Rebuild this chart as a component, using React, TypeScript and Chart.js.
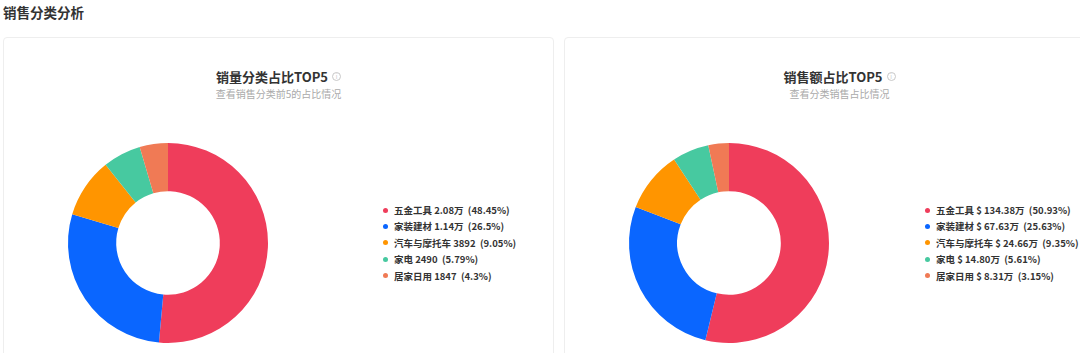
import React, { useEffect, useRef } from 'react';
import { Chart, registerables } from 'chart.js';

Chart.register(...registerables);

const categories = ['五金工具', '家装建材', '汽车与摩托车', '家电', '居家日用'];
const sliceColors = ['#EF3D5B', '#0A66FF', '#FF9500', '#47C9A0', '#F07A55'];

const qtyValues = [20800, 11400, 3892, 2490, 1847];
const qtyLabels = ['2.08万', '1.14万', '3892', '2490', '1847'];
const qtyPercents = ['48.45%', '26.5%', '9.05%', '5.79%', '4.3%'];

const amtValues = [134.38, 67.63, 24.66, 14.8, 8.31];
const amtLabels = ['$ 134.38万', '$ 67.63万', '$ 24.66万', '$ 14.80万', '$ 8.31万'];
const amtPercents = ['50.93%', '25.63%', '9.35%', '5.61%', '3.15%'];

const FONT = '"Noto Sans CJK SC", "Noto Sans", sans-serif';

function Donut({ values }: { values: number[] }) {
  const ref = useRef<HTMLCanvasElement | null>(null);
  useEffect(() => {
    if (!ref.current) return;
    const chart = new Chart(ref.current, {
      type: 'doughnut',
      data: {
        labels: categories,
        datasets: [
          {
            data: values,
            backgroundColor: sliceColors,
            borderWidth: 0,
            hoverOffset: 0,
          },
        ],
      },
      options: {
        responsive: false,
        maintainAspectRatio: false,
        animation: false,
        events: [],
        radius: 100,
        cutout: 57,
        layout: { padding: 0 },
        plugins: {
          legend: { display: false },
          tooltip: { enabled: false },
        },
      } as any,
    });
    return () => chart.destroy();
  }, [values]);
  return (
    <div style={{ position: 'absolute', left: 54, top: 95, width: 220, height: 220 }}>
      <canvas ref={ref} width={220} height={220} />
    </div>
  );
}

function Legend({ labels, percents, left }: { labels: string[]; percents: string[]; left: number }) {
  return (
    <div style={{ position: 'absolute', left, top: 164 }}>
      {categories.map((c, i) => (
        <div
          key={c}
          style={{
            display: 'flex',
            alignItems: 'center',
            height: 16.4,
            lineHeight: '16.4px',
            fontSize: 9.5,
            fontWeight: 700,
            color: '#333',
            whiteSpace: 'pre',
            fontFamily: FONT,
          }}
        >
          <span
            style={{
              display: 'inline-block',
              width: 5,
              height: 5,
              borderRadius: '50%',
              background: sliceColors[i],
              marginRight: 6,
            }}
          />
          <span>{`${c} ${labels[i]}  (${percents[i]})`}</span>
        </div>
      ))}
    </div>
  );
}

function InfoIcon() {
  return (
    <span
      style={{
        display: 'inline-block',
        width: 7,
        height: 7,
        border: '1px solid #c8c8c8',
        borderRadius: '50%',
        marginLeft: 4,
        verticalAlign: 'middle',
        position: 'relative',
        top: -1,
        fontSize: 6,
        lineHeight: '7px',
        textAlign: 'center',
        color: '#c8c8c8',
        fontWeight: 400,
      }}
    >
      i
    </span>
  );
}

function Card({
  left,
  title,
  subtitle,
  values,
  labels,
  percents,
  legendLeft,
}: {
  left: number;
  title: string;
  subtitle: string;
  values: number[];
  labels: string[];
  percents: string[];
  legendLeft: number;
}) {
  return (
    <div
      style={{
        position: 'absolute',
        left,
        top: 37,
        width: 549,
        height: 340,
        border: '1px solid #eeeeee',
        borderRadius: 4,
        background: '#fff',
        boxSizing: 'content-box',
        overflow: 'hidden',
      }}
    >
      <div
        style={{
          position: 'absolute',
          left: 0,
          right: 0,
          top: 31.5,
          textAlign: 'center',
          fontSize: 13,
          lineHeight: '13px',
          fontWeight: 700,
          color: '#333',
          fontFamily: FONT,
          whiteSpace: 'nowrap',
        }}
      >
        {title}
        <InfoIcon />
      </div>
      <div
        style={{
          position: 'absolute',
          left: 0,
          right: 0,
          top: 51,
          textAlign: 'center',
          fontSize: 10,
          lineHeight: '10px',
          color: '#aaa',
          fontFamily: FONT,
          whiteSpace: 'nowrap',
        }}
      >
        {subtitle}
      </div>
      <Donut values={values} />
      <Legend labels={labels} percents={percents} left={legendLeft} />
    </div>
  );
}

export default function App() {
  useEffect(() => {
    document.body.style.margin = '0';
    document.body.style.overflow = 'hidden';
    document.body.style.background = '#fff';
  }, []);
  return (
    <div style={{ position: 'relative', width: 1080, height: 353, overflow: 'hidden', fontFamily: FONT }}>
      <div
        style={{
          position: 'absolute',
          left: 3,
          top: 6,
          fontSize: 13.5,
          lineHeight: '13.5px',
          fontWeight: 700,
          color: '#333',
          whiteSpace: 'nowrap',
        }}
      >
        销售分类分析
      </div>
      <Card
        left={3}
        title="销量分类占比TOP5"
        subtitle="查看销售分类前5的占比情况"
        values={qtyValues}
        labels={qtyLabels}
        percents={qtyPercents}
        legendLeft={379}
      />
      <Card
        left={564}
        title="销售额占比TOP5"
        subtitle="查看分类销售占比情况"
        values={amtValues}
        labels={amtLabels}
        percents={amtPercents}
        legendLeft={360}
      />
    </div>
  );
}
